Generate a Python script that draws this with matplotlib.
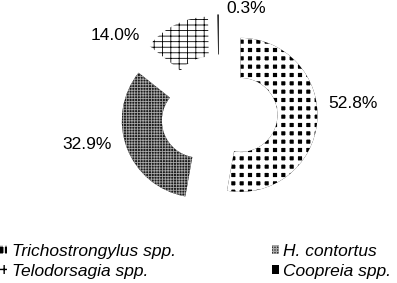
import numpy as np
import matplotlib
matplotlib.use("Agg")
import matplotlib.pyplot as plt

plt.rcParams['font.family'] = ['Liberation Sans', 'DejaVu Sans']

# data
species = ['Trichostrongylus spp.', 'H. contortus', 'Telodorsagia spp.', 'Coopreia spp.']
shares = [52.8, 32.9, 14.0, 0.3]
pct_labels = ['52.8%', '32.9%', '14.0%', '0.3%']

# style for each wedge: face, hatch colour, hatch, hatch line width
faces = ['black', '#1a1a1a', 'white', 'black']
hatch_cols = ['white', '#a8a8a8', 'black', 'black']
hatches = ['++', '++++++', '---||', None]
hatch_lw = [3.0, 0.6, 0.6, 1.0]

# label placement: angle nudge (deg) and distance (in radii)
nudge = [10.6, -8.5, 32.0, -19.0]
dist = [1.47, 1.48, 1.43, 1.14]

W, H = 397, 283
R_px = 77.0
cx, cy = 219.0, H - 113.0

fig = plt.figure(figsize=(W / 100, H / 100), dpi=100)
ax = fig.add_axes([0, 0, 1, 1])

wedges, _ = ax.pie(shares, startangle=90, counterclock=False,
                   explode=[0.28] * len(shares), radius=1.0,
                   wedgeprops=dict(width=0.52, linewidth=0))

for w, fc, hc, h, lw in zip(wedges, faces, hatch_cols, hatches, hatch_lw):
    w.set_facecolor(fc)
    w.set_edgecolor(hc)
    w.set_linewidth(0)
    if h:
        w.set_hatch(h)
        if hasattr(w, 'set_hatch_linewidth'):
            w.set_hatch_linewidth(lw)

for w, txt, dn, d in zip(wedges, pct_labels, nudge, dist):
    mid = np.deg2rad((w.theta1 + w.theta2) / 2 + dn)
    x0, y0 = w.center
    ax.text(x0 + d * w.r * np.cos(mid), y0 + d * w.r * np.sin(mid), txt,
            ha='center', va='center', fontsize=12.5)

ax.set_aspect('auto')
ax.set_xlim(-cx / R_px, (W - cx) / R_px)
ax.set_ylim(-cy / R_px, (H - cy) / R_px)
ax.axis('off')

order = [0, 2, 1, 3]
leg = fig.legend([wedges[i] for i in order], [species[i] for i in order],
                 ncol=2, loc='upper left', bbox_to_anchor=(0.0, 1 - 244 / H),
                 frameon=False, borderpad=0, borderaxespad=0,
                 handlelength=0.42, handleheight=0.42, handletextpad=0.25,
                 labelspacing=0.27, columnspacing=5.53,
                 prop=dict(size=12.5, style='italic'))

fig.savefig('out.png', dpi=100)
